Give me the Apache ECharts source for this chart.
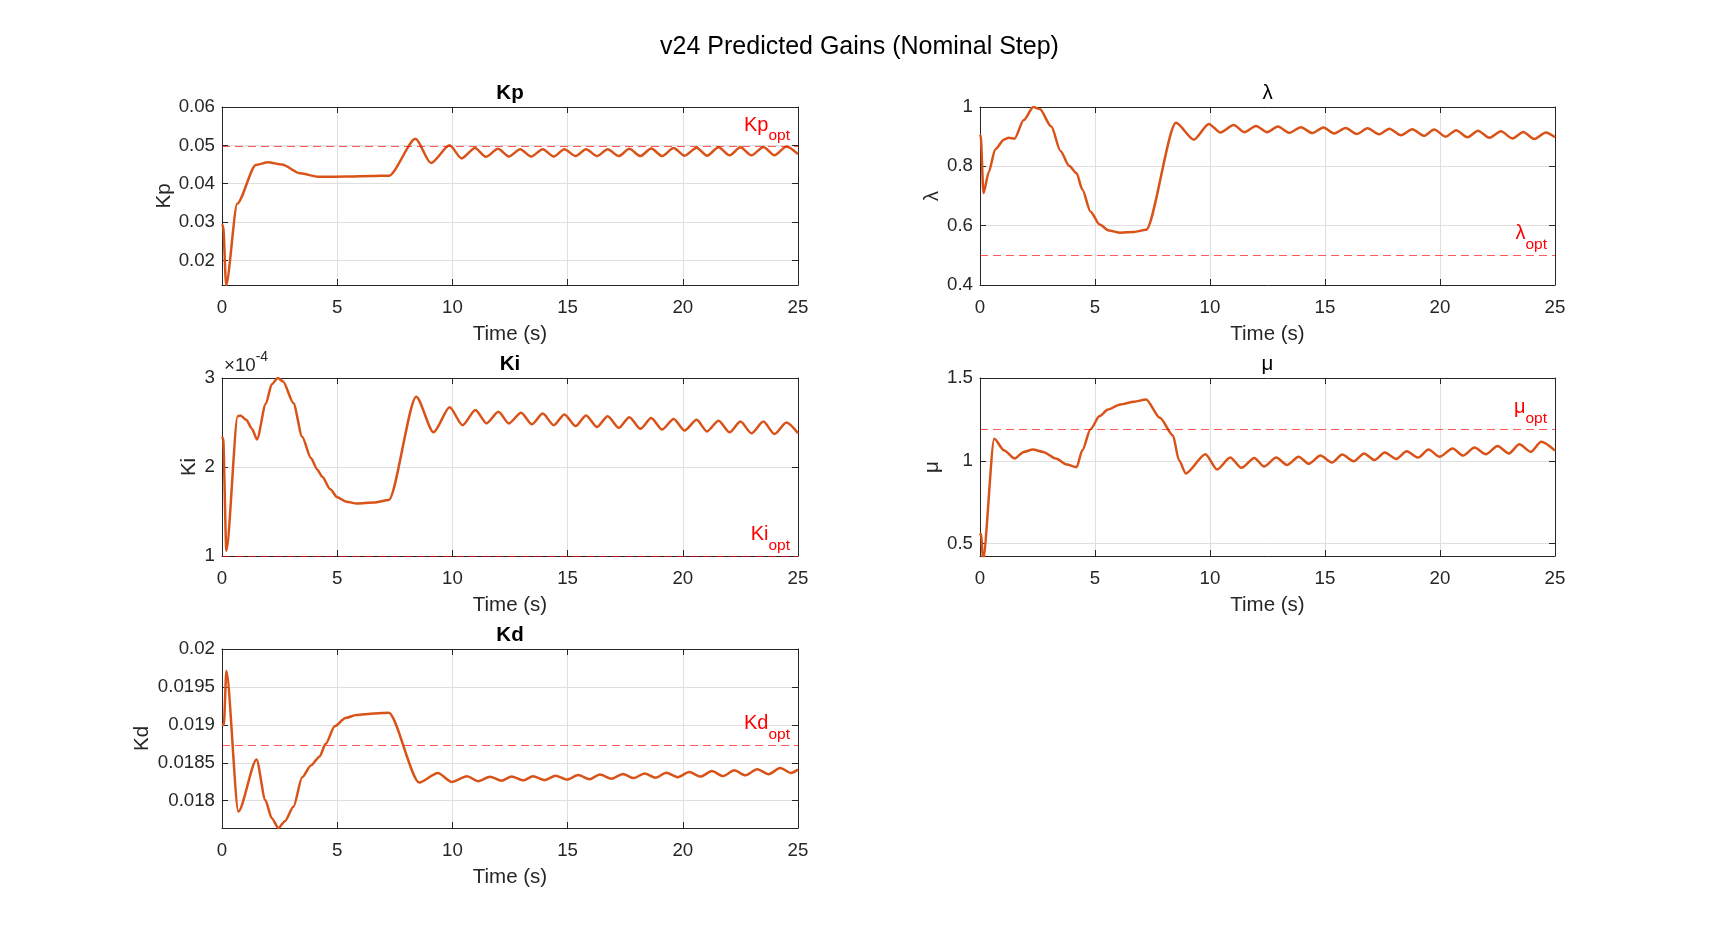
<!DOCTYPE html>
<html>
<head>
<meta charset="utf-8">
<title>v24 Predicted Gains (Nominal Step)</title>
<script src="https://cdn.jsdelivr.net/npm/echarts@6/dist/echarts.min.js"></script>
<style>
  html, body { margin: 0; padding: 0; background: #fff; }
  #chart { width: 1719px; height: 938px; }
</style>
</head>
<body>
<div id="chart"></div>
<script>
// time axis (s)
const timeRange = [0, 25];
const timeStep = 5;

// predicted gains, [time, value]
const kpData = [
  [0, 0.0294], [0.05, 0.0290], [0.18, 0.0136], [0.66, 0.0348], [1.47, 0.0449],
  [2.0, 0.0456], [2.6, 0.0450], [3.4, 0.0427], [4.2, 0.0418], [5.5, 0.0419], [6.5, 0.0420],
  [7.25, 0.0421], [8.4, 0.0517], [9.07, 0.0454], [9.88, 0.0500], [10.4, 0.0466], [10.98, 0.0493],
  [11.45, 0.0470], [11.98, 0.0491], [12.45, 0.0471], [12.94, 0.0490], [13.42, 0.0471], [13.92, 0.0490],
  [14.4, 0.0471], [14.86, 0.0490], [15.35, 0.0472], [15.8, 0.0490], [16.28, 0.0472], [16.74, 0.0490],
  [17.22, 0.0472], [17.68, 0.0491], [18.16, 0.0472], [18.63, 0.0492], [19.1, 0.0472], [19.6, 0.0493],
  [20.08, 0.0473], [20.6, 0.0494], [21.05, 0.0473], [21.55, 0.0495], [22.03, 0.0474], [22.5, 0.0495],
  [22.98, 0.0474], [23.5, 0.0496], [23.98, 0.0474], [24.5, 0.0497], [25, 0.0477]
];
const lambdaData = [
  [0, 0.900], [0.03, 0.905], [0.15, 0.710], [0.38, 0.780], [0.66, 0.857], [1.04, 0.890], [1.25, 0.896],
  [1.5, 0.893], [1.9, 0.956], [2.32, 1.000], [2.6, 0.993], [3.1, 0.934], [3.5, 0.852], [3.87, 0.802],
  [4.2, 0.777], [4.45, 0.722], [4.8, 0.648], [5.2, 0.604], [5.6, 0.584], [6.1, 0.576], [6.7, 0.579],
  [7.22, 0.586], [8.52, 0.947], [9.3, 0.890], [9.95, 0.943], [10.45, 0.914], [11.03, 0.939], [11.5, 0.915],
  [12.0, 0.936], [12.48, 0.915], [12.95, 0.934], [13.45, 0.913], [13.95, 0.932], [14.45, 0.912],
  [14.93, 0.931], [15.4, 0.911], [15.9, 0.929], [16.38, 0.909], [16.85, 0.928], [17.35, 0.908],
  [17.8, 0.927], [18.3, 0.905], [18.8, 0.925], [19.3, 0.903], [19.75, 0.924], [20.25, 0.900],
  [20.7, 0.922], [21.2, 0.898], [21.65, 0.920], [22.15, 0.896], [22.65, 0.918], [23.15, 0.894],
  [23.62, 0.916], [24.1, 0.892], [24.6, 0.914], [25, 0.898]
];
// Ki in units of 1e-4
const kiData = [
  [0, 2.34], [0.05, 2.32], [0.19, 1.06], [0.68, 2.57], [0.8, 2.58], [1.05, 2.53], [1.3, 2.43],
  [1.52, 2.31], [1.9, 2.71], [2.16, 2.93], [2.42, 3.00], [2.65, 2.96], [3.1, 2.72], [3.48, 2.34],
  [3.86, 2.10], [4.14, 1.97], [4.35, 1.89], [4.7, 1.75], [5.0, 1.66], [5.4, 1.61], [5.85, 1.59],
  [6.6, 1.60], [7.24, 1.63], [8.43, 2.79], [9.18, 2.39], [9.88, 2.67], [10.44, 2.47], [11.0, 2.64],
  [11.48, 2.49], [12.0, 2.62], [12.45, 2.49], [12.98, 2.61], [13.45, 2.48], [13.92, 2.60], [14.4, 2.47],
  [14.86, 2.59], [15.35, 2.46], [15.8, 2.58], [16.28, 2.45], [16.74, 2.57], [17.22, 2.44], [17.68, 2.56],
  [18.16, 2.43], [18.63, 2.55], [19.1, 2.42], [19.6, 2.54], [20.08, 2.41], [20.6, 2.53], [21.05, 2.40],
  [21.55, 2.52], [22.03, 2.39], [22.5, 2.51], [22.98, 2.38], [23.5, 2.51], [23.98, 2.37], [24.5, 2.50],
  [25, 2.38]
];
const muData = [
  [0, 0.55], [0.05, 0.56], [0.13, 0.40], [0.62, 1.133], [1.04, 1.064], [1.51, 1.014], [1.9, 1.054],
  [2.3, 1.068], [2.75, 1.054], [3.3, 1.014], [3.77, 0.978], [4.2, 0.962], [4.45, 1.064], [4.8, 1.19],
  [5.2, 1.27], [5.56, 1.31], [6.1, 1.34], [6.7, 1.357], [7.22, 1.37], [7.82, 1.26], [8.39, 1.153],
  [8.65, 1.004], [8.95, 0.924], [9.8, 1.040], [10.31, 0.948], [10.88, 1.020], [11.37, 0.958],
  [11.93, 1.018], [12.35, 0.966], [12.88, 1.020], [13.35, 0.975], [13.85, 1.025], [14.3, 0.982],
  [14.8, 1.032], [15.3, 0.990], [15.75, 1.038], [16.25, 0.998], [16.7, 1.045], [17.15, 1.005],
  [17.6, 1.050], [18.1, 1.012], [18.55, 1.058], [19.05, 1.020], [19.5, 1.068], [19.98, 1.025],
  [20.55, 1.075], [21.0, 1.032], [21.5, 1.080], [22.0, 1.040], [22.5, 1.090], [23.0, 1.045],
  [23.45, 1.100], [23.95, 1.054], [24.4, 1.115], [25, 1.062]
];
const kdData = [
  [0, 0.01901], [0.08, 0.01900], [0.19, 0.01971], [0.71, 0.017857], [1.5, 0.018543], [1.88, 0.018009],
  [2.16, 0.01777], [2.45, 0.01764], [2.73, 0.01773], [3.1, 0.01792], [3.48, 0.01831], [3.86, 0.018465],
  [4.23, 0.01858], [4.5, 0.01875], [4.89, 0.01898], [5.36, 0.01909], [5.83, 0.01913], [6.6, 0.01915],
  [7.24, 0.01916], [8.56, 0.01824], [9.37, 0.018365], [9.97, 0.018248], [10.63, 0.018322],
  [11.13, 0.018257], [11.63, 0.018317], [12.13, 0.018262], [12.57, 0.018318], [13.07, 0.018268],
  [13.5, 0.018322], [14.0, 0.018272], [14.48, 0.01833], [14.98, 0.018278], [15.46, 0.018338],
  [15.95, 0.018283], [16.4, 0.018345], [16.9, 0.01829], [17.4, 0.018352], [17.87, 0.018298],
  [18.34, 0.01836], [18.82, 0.018304], [19.28, 0.018368], [19.78, 0.01831], [20.28, 0.018378],
  [20.77, 0.018318], [21.26, 0.01839], [21.75, 0.018325], [22.23, 0.0184], [22.72, 0.018335],
  [23.23, 0.018415], [23.72, 0.01835], [24.23, 0.01843], [24.7, 0.018365], [25, 0.018409]
];

// optimal reference values
const kpOpt = 0.0497;
const lambdaOpt = 0.5;
const kiOpt = 1.0;   // x1e-4
const muOpt = 1.193;
const kdOpt = 0.01873;

// y axis ranges
const kpRange = [0.0136, 0.06];
const lambdaRange = [0.4, 1];
const kiRange = [1, 3];
const muRange = [0.426, 1.5];
const kdRange = [0.01764, 0.02];

const FONT = '"Liberation Sans", Arial, Helvetica, sans-serif';
const INK = '#262626';
const GRID_LINE = '#dfdfdf';
const LINE_COLOR = '#D95319';
const OPT_COLOR = '#ff0000';

const panels = [
  { title: 'Kp', bold: true, yName: 'Kp', nameGap: 47, data: kpData, opt: kpOpt, range: kpRange, split: 5, box: [222, 107, 576, 178] },
  { title: 'λ', bold: false, yName: 'λ', nameGap: 36, data: lambdaData, opt: lambdaOpt, range: lambdaRange, interval: 0.2, box: [980, 107, 575, 178] },
  { title: 'Ki', bold: true, yName: 'Ki', nameGap: 22, data: kiData, opt: kiOpt, range: kiRange, interval: 1, box: [222, 378, 576, 178] },
  { title: 'μ', bold: false, yName: 'μ', nameGap: 36, data: muData, opt: muOpt, range: muRange, split: 2, box: [980, 378, 575, 178] },
  { title: 'Kd', bold: true, yName: 'Kd', nameGap: 69, data: kdData, opt: kdOpt, range: kdRange, split: 5, box: [222, 649, 576, 179] }
];

const grids = [], xAxes = [], yAxes = [], series = [];
const titles = [{
  text: 'v24 Predicted Gains (Nominal Step)',
  left: 'center', top: 35, padding: 0,
  textStyle: { fontFamily: FONT, fontSize: 25, fontWeight: 'normal', color: '#000' }
}];

function tickStyle() {
  return { show: true, inside: true, length: 6, lineStyle: { color: INK, width: 1 } };
}

panels.forEach(function (p, i) {
  grids.push({
    left: p.box[0], top: p.box[1], width: p.box[2], height: p.box[3],
    containLabel: false, outerBoundsMode: 'none', show: false
  });

  // bottom + mirrored top x axis
  [false, true].forEach(function (mirror) {
    xAxes.push({
      type: 'value', gridIndex: i, position: mirror ? 'top' : 'bottom',
      min: timeRange[0], max: timeRange[1], interval: timeStep,
      name: mirror ? '' : 'Time (s)', nameLocation: 'middle', nameGap: 39,
      nameTextStyle: { fontFamily: FONT, fontSize: 20.5, color: INK },
      axisLine: { show: true, onZero: false, lineStyle: { color: INK, width: 1 } },
      axisTick: tickStyle(),
      axisLabel: { show: !mirror, margin: 13, fontFamily: FONT, fontSize: 18.7, color: INK },
      splitLine: { show: !mirror, lineStyle: { color: GRID_LINE, width: 1 } }
    });
  });

  // left + mirrored right y axis
  [false, true].forEach(function (mirror) {
    yAxes.push({
      type: 'value', gridIndex: i, position: mirror ? 'right' : 'left',
      min: p.range[0], max: p.range[1], interval: p.interval, splitNumber: p.split,
      name: mirror ? '' : p.yName, nameLocation: 'middle', nameGap: p.nameGap,
      nameTextStyle: { fontFamily: FONT, fontSize: 20.5, color: INK },
      axisLine: { show: true, onZero: false, lineStyle: { color: INK, width: 1 } },
      axisTick: tickStyle(),
      axisLabel: {
        show: !mirror, margin: 7, fontFamily: FONT, fontSize: 18.7, color: INK,
        showMinLabel: p.interval ? true : false
      },
      splitLine: { show: !mirror, lineStyle: { color: GRID_LINE, width: 1 } }
    });
  });

  titles.push({
    text: p.title, left: p.box[0] + p.box[2] / 2, textAlign: 'center', top: p.box[1] - 24, padding: 0,
    textStyle: { fontFamily: FONT, fontSize: 20.5, fontWeight: p.bold ? 'bold' : 'normal', color: '#000' }
  });

  series.push({
    type: 'line', xAxisIndex: 2 * i, yAxisIndex: 2 * i,
    data: p.data, showSymbol: false, symbol: 'none',
    smooth: 0.25, smoothMonotone: 'x', clip: true,
    lineStyle: { color: LINE_COLOR, width: 2.5 },
    animation: false,
    markLine: {
      silent: true, symbol: 'none', animation: false, precision: 8,
      lineStyle: { color: 'rgba(255,0,0,0.65)', type: [8, 5], width: 1.2 },
      label: {
        show: true, position: 'insideEndTop', distance: [8, 6],
        formatter: '{a|' + p.yName + '}{b|opt}',
        rich: {
          a: { fontFamily: FONT, fontSize: 20, lineHeight: 20, color: OPT_COLOR, padding: [0, 0, 11, 0] },
          b: { fontFamily: FONT, fontSize: 15.5, lineHeight: 15.5, color: OPT_COLOR, padding: [11, 0, 0, 0] }
        }
      },
      data: [{ yAxis: p.opt }]
    }
  });
});

// x10^-4 multiplier for Ki axis
titles.push({
  text: '{a|×10}{b|-4}', left: 224, top: 352, padding: 0,
  textStyle: {
    fontWeight: 'normal',
    rich: {
      a: { fontFamily: FONT, fontSize: 18.7, fontWeight: 'normal', lineHeight: 19, color: INK, padding: [8, 0, 0, 0] },
      b: { fontFamily: FONT, fontSize: 14, fontWeight: 'normal', lineHeight: 14, color: INK, padding: [0, 0, 8, 0] }
    }
  }
});

const chart = echarts.init(document.getElementById('chart'), null, { renderer: 'canvas' });
chart.setOption({
  backgroundColor: '#ffffff',
  animation: false,
  title: titles,
  grid: grids,
  xAxis: xAxes,
  yAxis: yAxes,
  series: series
});
</script>
</body>
</html>
